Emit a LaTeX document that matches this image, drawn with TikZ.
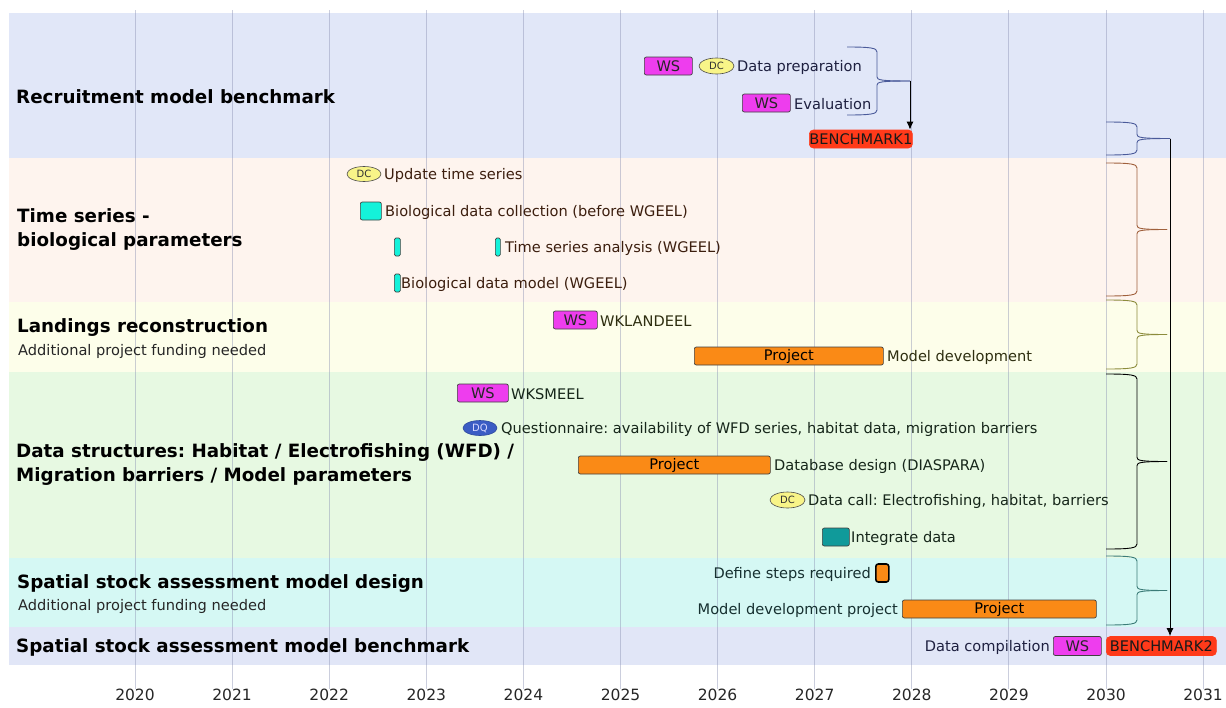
\documentclass[tikz,border=0pt]{standalone}
\usepackage{fontspec}
\setmainfont{DejaVu Sans}
\usetikzlibrary{arrows.meta,shapes.geometric}
\frenchspacing

% band fills
\definecolor{bandA}{HTML}{E1E7F8}
\definecolor{bandB}{HTML}{FEF4EE}
\definecolor{bandC}{HTML}{FDFEEA}
\definecolor{bandD}{HTML}{E7F9E2}
\definecolor{bandE}{HTML}{D5F8F4}
\definecolor{bandF}{HTML}{E1E6F7}
% bar fills
\definecolor{wsfill}{HTML}{EE3DEE}
\definecolor{dcfill}{HTML}{F8F488}
\definecolor{dqfill}{HTML}{3B5CC4}
\definecolor{cyfill}{HTML}{14F2DA}
\definecolor{tealfill}{HTML}{109A9A}
\definecolor{prfill}{HTML}{FA8A16}
\definecolor{bmfill}{HTML}{FF3A1A}
% label and brace tints
\definecolor{txtA}{HTML}{1E2040}
\definecolor{txtB}{HTML}{3C1E0E}
\definecolor{txtC}{HTML}{2E2E10}
\definecolor{txtD}{HTML}{16261A}
\definecolor{txtE}{HTML}{163030}
\definecolor{brA}{HTML}{4A5A9A}
\definecolor{brB}{HTML}{A0603C}
\definecolor{brC}{HTML}{8C8C3C}
\definecolor{brD}{HTML}{000000}
\definecolor{brE}{HTML}{3C7C78}
\definecolor{gridc}{HTML}{8C92B4}

\newcommand\fsreg{\fontsize{14.6}{17}\selectfont}
\newcommand\fsbold{\fontsize{18.3}{24}\selectfont\bfseries}

% group brace: colour, left x, spine x, tip x, top y, bottom y, tip name
\newcommand\gbrace[7]{%
  \pgfmathsetmacro\ymid{(#5+#6)/2}%
  \draw[#1, line width=0.9pt] (#2,#5) .. controls (#3-6,#5) and (#3,#5+1) .. (#3,#5+5)
      -- (#3,\ymid-4) .. controls (#3,\ymid-1) and (#3+4,\ymid) .. (#4,\ymid);
  \draw[#1, line width=0.9pt] (#4,\ymid) .. controls (#3+4,\ymid) and (#3,\ymid+1) .. (#3,\ymid+4)
      -- (#3,#6-5) .. controls (#3,#6-1) and (#3-6,#6) .. (#2,#6);
  \coordinate (#7) at (#4,\ymid);
}

\begin{document}
\begin{tikzpicture}[x=1pt,y=-1pt,
  gridline/.style={draw=gridc, opacity=0.45, line width=1pt},
  yearlbl/.style={font=\fontsize{15.5}{18}\selectfont, text=black!85, inner sep=0},
  title/.style={font=\fsbold, anchor=west, inner sep=0, text=black, yshift=-1pt},
  sub/.style={font=\fsreg, anchor=west, inner sep=0, text=black!85, yshift=-1pt},
  lbl/.style={font=\fsreg, anchor=west, inner sep=0, text=#1, yshift=-1pt},
  lbl/.default=black,
  rlbl/.style={font=\fsreg, anchor=east, inner sep=0, text=#1, yshift=-1pt},
  bar/.style={draw=black!75, line width=0.7pt, rounded corners=2pt, inner sep=0,
              minimum height=18pt, anchor=west, font=\fsreg},
  ws/.style={bar, fill=wsfill, text=black!85},
  cy/.style={bar, fill=cyfill},
  teal/.style={bar, fill=tealfill},
  proj/.style={bar, fill=prfill, text=black},
  bench/.style={bar, draw=bmfill, fill=bmfill, rounded corners=4pt, text=black!90},
  dcell/.style={ellipse, draw=black!70, line width=0.6pt, fill=dcfill, inner sep=0,
                minimum width=35pt, minimum height=16pt,
                font=\fontsize{10}{11}\selectfont, text=black!80},
  dqell/.style={ellipse, draw=dqfill!80!black, line width=0.6pt, fill=dqfill, inner sep=0,
                minimum width=35pt, minimum height=16pt,
                font=\fontsize{10}{11}\selectfont, text=blue!15},
  flow/.style={draw=black, line width=1pt, -{Latex[length=8pt,width=7pt]}}
]
\useasboundingbox (0,0) rectangle (1226,707);

% ---- swim-lane bands ----
\fill[bandA] (9,13)  rectangle (1226,158);
\fill[bandB] (9,158) rectangle (1226,302);
\fill[bandC] (9,302) rectangle (1226,372);
\fill[bandD] (9,372) rectangle (1226,558);
\fill[bandE] (9,558) rectangle (1226,627);
\fill[bandF] (9,627) rectangle (1226,665);

% ---- year grid and axis labels ----
\foreach \i in {0,...,11}{
  \pgfmathsetmacro\xx{135+97.1*\i}
  \pgfmathtruncatemacro\yy{2020+\i}
  \draw[gridline] (\xx,10) -- (\xx,689);
  \node[yearlbl] (year\yy) at (\xx,695) {\yy};
}

% ---- lane titles ----
\node[title] (tA) at (16,96) {Recruitment model benchmark};
\node[title, align=left] (tB) at (17,229) {Time series -\\biological parameters};
\node[title] (tC) at (17,327) {Landings reconstruction};
\node[sub]   (sC) at (18,350) {Additional project funding needed};
\node[title, align=left] (tD) at (16,464) {Data structures: Habitat / Electrofishing (WFD) /\\Migration barriers / Model parameters};
\node[title] (tE) at (17,583) {Spatial stock assessment model design};
\node[sub]   (sE) at (18,605) {Additional project funding needed};
\node[title] (tF) at (16,646) {Spatial stock assessment model benchmark};

% ---- Recruitment model benchmark ----
\node[ws, minimum width=48pt] (wsA1) at (644,66) {WS};
\node[dcell] (dcA1) at (716.5,66) {DC};
\node[lbl=txtA] (lA1) at (737,66) {Data preparation};
\node[ws, minimum width=48pt] (wsA2) at (742,103) {WS};
\node[lbl=txtA] (lA2) at (794,103) {Evaluation};
\node[bench, minimum width=103pt] (bm1) at (809,139) {BENCHMARK1};
\gbrace{brA}{847}{877}{910}{47}{115}{tipA}
\draw[flow] (tipA) -- (tipA |- bm1.north);

% ---- Time series - biological parameters ----
\node[dcell, minimum width=34pt, minimum height=15pt] (dcB1) at (364,174) {DC};
\node[lbl=txtB] (lB1) at (384,174) {Update time series};
\node[cy, minimum width=21pt] (cyB1) at (360,211) {};
\node[lbl=txtB] (lB2) at (385,211) {Biological data collection (before WGEEL)};
\node[cy, minimum width=6pt, rounded corners=1.5pt] (cyB2) at (394,247) {};
\node[cy, minimum width=5pt, rounded corners=1.5pt] (cyB3) at (495,247) {};
\node[lbl=txtB] (lB3) at (505,247) {Time series analysis (WGEEL)};
\node[cy, minimum width=6pt, rounded corners=1.5pt] (cyB4) at (394,283) {};
\node[lbl=txtB] (lB4) at (401,283) {Biological data model (WGEEL)};

% ---- Landings reconstruction ----
\node[ws, minimum width=44pt] (wsC1) at (553,320) {WS};
\node[lbl=txtC] (lC1) at (600,320) {WKLANDEEL};
\node[proj, minimum width=189pt] (prC1) at (694,356) {Project};
\node[lbl=txtC] (lC2) at (887,356) {Model development};

% ---- Data structures ----
\node[ws, minimum width=51pt] (wsD1) at (457,393) {WS};
\node[lbl=txtD] (lD1) at (511,393) {WKSMEEL};
\node[dqell, minimum width=34pt, minimum height=15pt] (dqD1) at (480,428) {DQ};
\node[lbl=txtD] (lD2) at (501,428) {Questionnaire: availability of WFD series, habitat data, migration barriers};
\node[proj, minimum width=192pt] (prD1) at (578,465) {Project};
\node[lbl=txtD] (lD3) at (774,465) {Database design (DIASPARA)};
\node[dcell] (dcD1) at (787.5,500) {DC};
\node[lbl=txtD] (lD4) at (808,500) {Data call: Electrofishing, habitat, barriers};
\node[teal, minimum width=27pt] (tlD1) at (822,537) {};
\node[lbl=txtD] (lD5) at (851,537) {Integrate data};

% ---- Spatial stock assessment model design ----
\node[proj, minimum width=13pt, line width=1.6pt, draw=black, rounded corners=2.5pt] (prE1) at (875,573) {};
\node[rlbl=txtE] (lE1) at (871,573) {Define steps required};
\node[proj, minimum width=194pt] (prE2) at (902,609) {Project};
\node[rlbl=txtE] (lE2) at (898,609) {Model development project};

% ---- Spatial stock assessment model benchmark ----
\node[ws, minimum width=48pt, minimum height=19pt] (wsF1) at (1053,646) {WS};
\node[bench, minimum width=110pt, minimum height=19pt] (bm2) at (1106,646) {BENCHMARK2};
\node[rlbl=txtA] (lF1) at (1050,646) {Data compilation};

% ---- group braces feeding the final benchmark ----
\gbrace{brA}{1106}{1137}{1170}{122}{155}{gA}
\gbrace{brB}{1106}{1137}{1167}{163}{296}{gB}
\gbrace{brC}{1106}{1137}{1167}{300}{369}{gC}
\gbrace{brD}{1106}{1137}{1167}{374}{549}{gD}
\gbrace{brE}{1106}{1137}{1167}{556}{625}{gE}
\draw[flow] (gA) -- (gA |- bm2.north);

\end{tikzpicture}
\end{document}
